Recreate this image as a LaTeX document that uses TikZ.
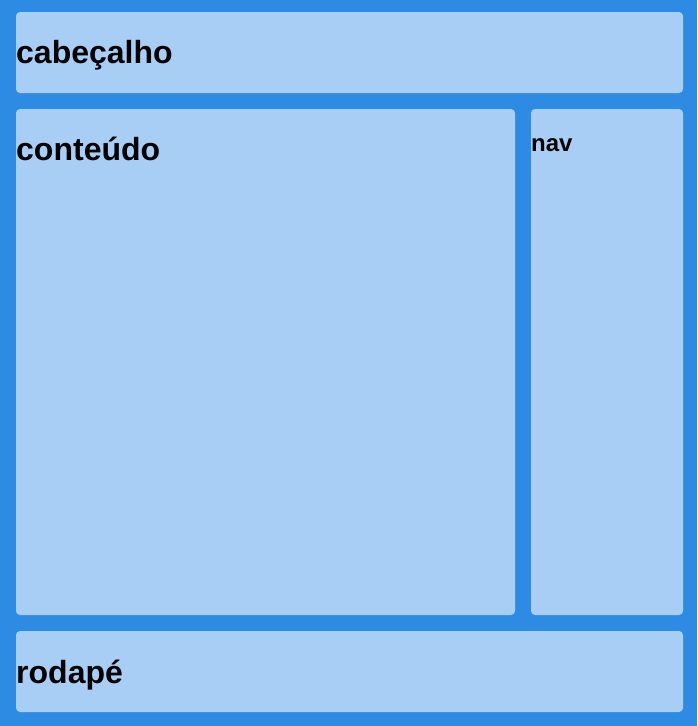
\documentclass[tikz,border=0pt]{standalone}
\usepackage{fontspec}
\setmainfont{Liberation Sans}
\definecolor{bgblue}{HTML}{2E8BE3}
\definecolor{boxblue}{HTML}{A8CEF5}
\tikzset{
  panel/.style={fill=boxblue, draw=none, rounded corners=4pt},
  big/.style={anchor=base west, inner sep=0pt, font=\fontsize{32}{36}\selectfont\bfseries},
  small/.style={anchor=base west, inner sep=0pt, font=\fontsize{24}{28}\selectfont\bfseries}
}
\begin{document}
\begin{tikzpicture}[x=1pt,y=-1pt]
\fill[bgblue] (0,0) rectangle (697,726);
\useasboundingbox (0,0) rectangle (697,726);
\fill[panel] (16,12) rectangle (683,93);
\fill[panel] (16,109) rectangle (515,615);
\fill[panel] (531,109) rectangle (683,615);
\fill[panel] (16,631) rectangle (683,712);
\node[big] (cab) at (16,63) {cabeçalho};
\node[big] (con) at (16,160) {conteúdo};
\node[small] (nav) at (531,151) {nav};
\node[big] (rod) at (16,683) {rodapé};
\end{tikzpicture}
\end{document}
